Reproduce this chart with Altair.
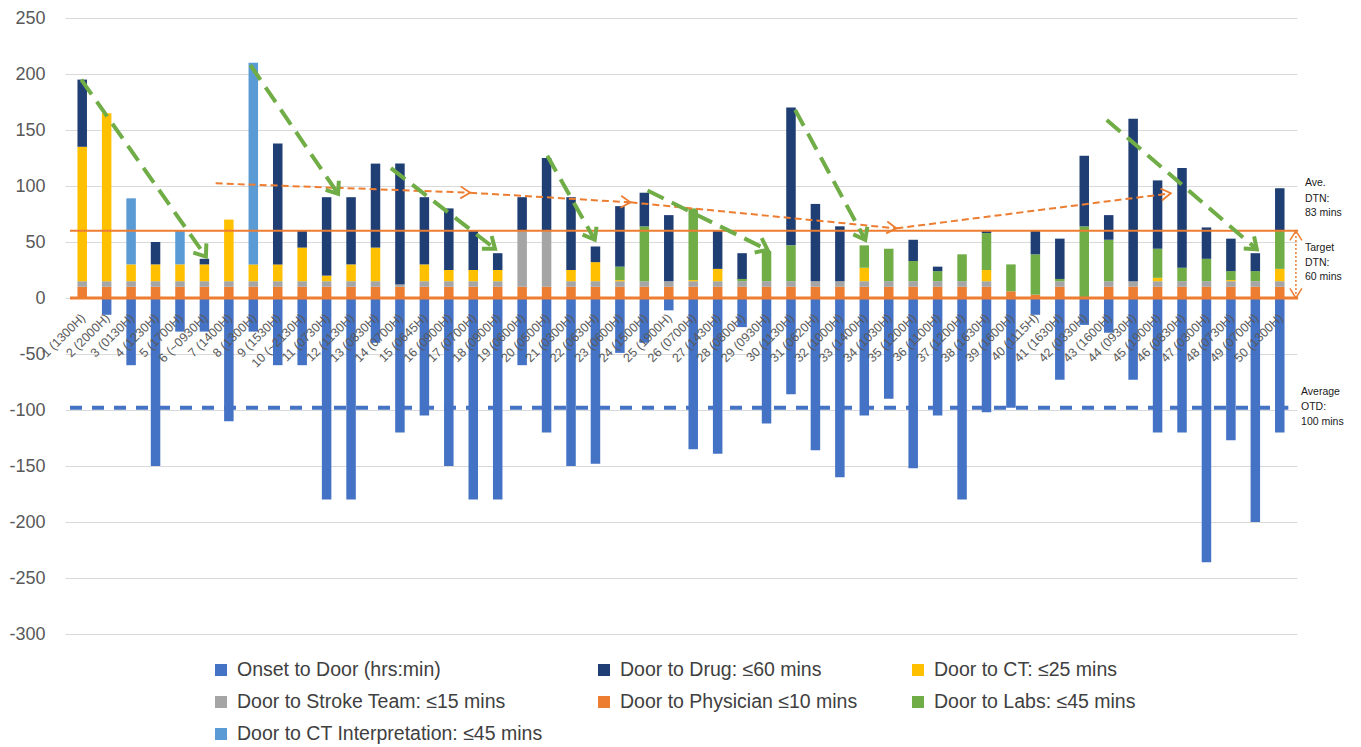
import math

import altair as alt
import pandas as pd

# ---------------------------------------------------------------- data
patients = [
    "1 (1300H)", "2 (2000H)", "3 (0130H)", "4 (1230H)", "5 (1700H)",
    "6 (~0930H)", "7 (1400H)", "8 (1300H)", "9 (1530H)", "10 (~2130H)",
    "11 (0730H)", "12 (1130H)", "13 (0830H)", "14 (0700H)", "15 (0645H)",
    "16 (0900H)", "17 (0700H)", "18 (0900H)", "19 (0600H)", "20 (0500H)",
    "21 (0300H)", "22 (0630H)", "23 (0600H)", "24 (1500H)", "25 (1900H)",
    "26 (0700H)", "27 (1430H)", "28 (0800H)", "29 (0930H)", "30 (1130H)",
    "31 (0620H)", "32 (1000H)", "33 (1400H)", "34 (1030H)", "35 (1200H)",
    "36 (1100H)", "37 (1200H)", "38 (1630H)", "39 (1600H)", "40 (1115H)",
    "41 (1630H)", "42 (0330H)", "43 (1600H)", "44 (0930H)", "45 (1900H)",
    "46 (0830H)", "47 (0300H)", "48 (0730H)", "49 (0700H)", "50 (1300H)",
]

# minutes from onset to arrival (drawn below the zero line)
onset_to_door = [
    0, 15, 60, 150, 30, 30, 110, 30, 60, 60,
    180, 180, 40, 120, 105, 150, 180, 180, 60, 120,
    150, 148, 49, 40, 11, 135, 139, 26, 112, 86,
    136, 160, 105, 90, 152, 105, 180, 102, 98, 15,
    73, 24, 31, 73, 120, 120, 236, 127, 200, 120,
]

# minutes after arrival at which each step was completed (None = not recorded)
door_to_drug = [
    195, None, None, 50, None, 35, None, None, 138, 60,
    90, 90, 120, 120, 90, 80, 60, 40, 90, 125,
    90, 46, 82, 94, 74, None, 60, 40, None, 170,
    84, 64, None, None, 52, 28, None, 60, None, 60,
    53, 127, 74, 160, 105, 116, 63, 53, 40, 98,
]
door_to_ct = [
    135, 165, 30, 30, 30, 30, 70, 30, 30, 45,
    20, 30, 45, None, 30, 25, 25, 25, None, None,
    25, 32, 16, None, None, 16, 26, None, None, None,
    None, None, 27, None, None, None, None, 25, None, None,
    None, None, None, None, 18, None, None, 16, None, 26,
]
door_to_stroke_team = [
    15, 15, 15, 15, 15, 15, 15, 15, 15, 15,
    15, 15, 15, 12, 15, 15, 15, 15, 60, 60,
    15, 15, 15, 15, 15, 15, 15, 15, 15, 15,
    15, 15, 15, 15, 15, 15, 15, 15, None, None,
    15, None, 15, 15, 15, 15, 15, 15, 15, 15,
]
door_to_physician = [
    10, 10, 10, 10, 10, 10, 10, 10, 10, 10,
    10, 10, 10, 10, 10, 10, 10, 10, 10, 10,
    10, 10, 10, 10, 10, 10, 10, 10, 10, 10,
    10, 10, 10, 10, 10, 10, 10, 10, 6, 3,
    10, None, 10, 10, 10, 10, 10, 10, 10, 10,
]
door_to_labs = [
    None, None, None, None, None, None, None, None, None, None,
    None, None, None, None, None, None, None, None, None, None,
    None, None, 28, 64, None, 80, None, 17, 42, 47,
    None, None, 47, 44, 33, 24, 39, 58, 30, 39,
    17, 64, 52, None, 44, 27, 35, 24, 24, 60,
]
door_to_ct_interpretation = [
    None, None, 89, None, 60, None, None, 210, None, None,
    None, None, None, None, None, None, None, None, None, None,
    None, None, None, None, None, None, None, None, None, None,
    None, None, None, None, None, None, None, None, None, None,
    None, None, None, None, None, None, None, None, None, None,
]

series_names = [
    "Onset to Door (hrs:min)",
    "Door to Drug: ≤60 mins",
    "Door to CT: ≤25 mins",
    "Door to Stroke Team: ≤15 mins",
    "Door to Physician ≤10 mins",
    "Door to Labs: ≤45 mins",
    "Door to CT Interpretation: ≤45 mins",
]
series_colors = ["#4472C4", "#1F3E73", "#FFC000", "#A5A5A5", "#ED7D31", "#70AD47", "#5B9BD5"]

target_dtn = 60
average_otd = -98

# trend arrows (patient position, minutes)
green_start_x = [0.96, 7.88, 13.63, 20.03, 24.13, 30.17, 42.92]
green_start_v = [195, 208, 116, 127, 96, 168, 159]
green_end_x = [6.06, 11.47, 17.89, 21.97, 29.04, 33.04, 49.06]
green_end_v = [37, 93, 44, 52, 43, 52, 43.5]

dtn_trend_x = [6.46, 16.87, 23.43, 34.31, 45.54]
dtn_trend_v = [102.4, 94.0, 85.4, 62.2, 93.5]

note_x = [51.03, 51.03, 51.03, 51.03, 51.03, 51.03, 50.87, 50.87, 50.87]
note_v = [102.4, 88.1, 75.6, 44.4, 31.5, 18.5, -83.7, -97.1, -110.4]
note_text = ["Ave.", "DTN:", "83 mins", "Target", "DTN:", "60 mins", "Average", "OTD:", "100 mins"]

# ---------------------------------------------------------------- layout
WIDTH, HEIGHT = 1232, 616
X_DOMAIN = [0.5, 50.5]
Y_DOMAIN = [-300, 250]
PX_X = WIDTH / (X_DOMAIN[1] - X_DOMAIN[0])
PX_Y = HEIGHT / (Y_DOMAIN[1] - Y_DOMAIN[0])
FONT = "Liberation Sans"

# category labels hang just under the zero line
CATEGORY_LABEL_Y = -16
CATEGORY_LABEL_DX = 0.04

# legend grid (pixels relative to the plot origin): 3 columns, filled row by row
LEGEND_COL_X = [156, 539, 853]
LEGEND_ROW_Y = [652, 684, 716]


def heading(x0, v0, x1, v1):
    """Screen angle (degrees, clockwise) of the direction from point 0 to point 1."""
    a = math.degrees(math.atan2(-(v1 - v0) * PX_Y, (x1 - x0) * PX_X))
    return a % 360


# ---------------------------------------------------------------- tables
steps = {
    series_names[1]: door_to_drug,
    series_names[2]: door_to_ct,
    series_names[3]: door_to_stroke_team,
    series_names[4]: door_to_physician,
    series_names[5]: door_to_labs,
    series_names[6]: door_to_ct_interpretation,
}

rows = []
for i in range(len(patients)):
    vals = sorted(
        (arr[i], name) for name, arr in steps.items() if arr[i] is not None and arr[i] > 0
    )
    prev = 0
    for v, name in vals:
        rows.append({"idx": i + 1, "series": name, "y0": prev, "y1": v})
        prev = v
    if onset_to_door[i] > 0:
        rows.append({"idx": i + 1, "series": series_names[0], "y0": 0, "y1": -onset_to_door[i]})
bars_df = pd.DataFrame(rows)

category_df = pd.DataFrame({
    "idx": [i + 1 + CATEGORY_LABEL_DX for i in range(len(patients))],
    "v": [CATEGORY_LABEL_Y] * len(patients),
    "label": patients,
})

green_df = pd.DataFrame({
    "x0": green_start_x, "v0": green_start_v, "x1": green_end_x, "v1": green_end_v,
})
green_df["angle"] = [heading(a, b, c, d) for a, b, c, d in
                     zip(green_start_x, green_start_v, green_end_x, green_end_v)]

trend_df = pd.DataFrame({
    "x0": dtn_trend_x[:-1], "v0": dtn_trend_v[:-1],
    "x1": dtn_trend_x[1:], "v1": dtn_trend_v[1:],
})
trend_df["angle"] = [heading(a, b, c, d) for a, b, c, d in
                     zip(trend_df.x0, trend_df.v0, trend_df.x1, trend_df.v1)]

hlines_df = pd.DataFrame({"xs": [0.5], "xe": [50.75]})
target_arrow_x = 50.66
target_df = pd.DataFrame({"x": [target_arrow_x], "v0": [0], "v1": [target_dtn]})
target_heads_df = pd.DataFrame({
    "x": [target_arrow_x, target_arrow_x], "v": [target_dtn, 0], "angle": [270, 90],
})
notes_df = pd.DataFrame({"x": note_x, "v": note_v, "text": note_text})

legend_df = pd.DataFrame({
    "series": series_names,
    "lx": [LEGEND_COL_X[k % 3] for k in range(len(series_names))],
    "ly": [LEGEND_ROW_Y[k // 3] for k in range(len(series_names))],
})

# ---------------------------------------------------------------- chart
x_scale = alt.Scale(domain=X_DOMAIN, nice=False, zero=False)
y_scale = alt.Scale(domain=Y_DOMAIN, nice=False, zero=False)
color_scale = alt.Scale(domain=series_names, range=series_colors)

bars = alt.Chart(bars_df).mark_bar(size=9.5).encode(
    x=alt.X(
        "idx:Q", scale=x_scale, title="",
        axis=alt.Axis(labels=False, ticks=False, domain=False, grid=False),
    ),
    y=alt.Y(
        "y0:Q", scale=y_scale, title="",
        axis=alt.Axis(
            values=list(range(-300, 251, 50)), grid=True, gridColor="#D9D9D9",
            gridWidth=1, domain=False, ticks=False, labelPadding=20,
            labelFontSize=18, labelFont=FONT, labelColor="#595959",
            labelExpr="toString(datum.value)",
        ),
    ),
    y2="y1:Q",
    color=alt.Color("series:N", scale=color_scale, legend=None),
)

zero_line = alt.Chart(hlines_df).mark_rule(color="#ED7D31", strokeWidth=3).encode(
    x=alt.X("xs:Q", scale=x_scale, title=""), x2="xe:Q",
    y=alt.datum(0, scale=y_scale, title=""),
)
target_line = alt.Chart(hlines_df).mark_rule(color="#ED7D31", strokeWidth=2).encode(
    x=alt.X("xs:Q", scale=x_scale, title=""), x2="xe:Q",
    y=alt.datum(target_dtn, scale=y_scale, title=""),
)
otd_line = alt.Chart(pd.DataFrame({"xs": [0.5], "xe": [50.35]})).mark_rule(
    color="#4472C4", strokeWidth=4, strokeDash=[12, 10]
).encode(
    x=alt.X("xs:Q", scale=x_scale, title=""), x2="xe:Q",
    y=alt.datum(average_otd, scale=y_scale, title=""),
)

green_lines = alt.Chart(green_df).mark_rule(
    color="#70AD47", strokeWidth=4, strokeDash=[18, 9]
).encode(
    x=alt.X("x0:Q", scale=x_scale, title=""), x2="x1:Q",
    y=alt.Y("v0:Q", scale=y_scale, title=""), y2="v1:Q",
)
green_heads = alt.Chart(green_df).mark_point(
    shape="M-1.3,-1L0,0L-1.3,1", filled=False, color="#70AD47",
    strokeWidth=4, size=256, opacity=1,
).encode(
    x=alt.X("x1:Q", scale=x_scale, title=""),
    y=alt.Y("v1:Q", scale=y_scale, title=""),
    angle=alt.Angle("angle:Q", scale=None),
)

trend_lines = alt.Chart(trend_df).mark_rule(
    color="#ED7D31", strokeWidth=2, strokeDash=[7, 4]
).encode(
    x=alt.X("x0:Q", scale=x_scale, title=""), x2="x1:Q",
    y=alt.Y("v0:Q", scale=y_scale, title=""), y2="v1:Q",
)
trend_heads = alt.Chart(trend_df).mark_point(
    shape="M-1.6,-1L0,0L-1.6,1", filled=False, color="#ED7D31",
    strokeWidth=1.8, size=144, opacity=1,
).encode(
    x=alt.X("x1:Q", scale=x_scale, title=""),
    y=alt.Y("v1:Q", scale=y_scale, title=""),
    angle=alt.Angle("angle:Q", scale=None),
)

target_span = alt.Chart(target_df).mark_rule(
    color="#ED7D31", strokeWidth=1.5, strokeDash=[2, 2]
).encode(
    x=alt.X("x:Q", scale=x_scale, title=""),
    y=alt.Y("v0:Q", scale=y_scale, title=""), y2="v1:Q",
)
target_heads = alt.Chart(target_heads_df).mark_point(
    shape="M-1.6,-1L0,0L-1.6,1", filled=False, color="#ED7D31",
    strokeWidth=1.5, size=144, opacity=1,
).encode(
    x=alt.X("x:Q", scale=x_scale, title=""),
    y=alt.Y("v:Q", scale=y_scale, title=""),
    angle=alt.Angle("angle:Q", scale=None),
)

notes = alt.Chart(notes_df).mark_text(
    align="left", baseline="middle", fontSize=10.5, font=FONT, color="#1A1A1A"
).encode(
    x=alt.X("x:Q", scale=x_scale, title=""),
    y=alt.Y("v:Q", scale=y_scale, title=""),
    text="text:N",
)

# patient labels, slanted up to the right and ending under each bar
category_labels = alt.Chart(category_df).mark_text(
    align="right", baseline="middle", angle=315, fontSize=12.5, font=FONT,
    color="#595959",
).encode(
    x=alt.X("idx:Q", scale=x_scale, title=""),
    y=alt.Y("v:Q", scale=y_scale, title=""),
    text="label:N",
)

# legend: colour swatch + label, three per row
legend_marks = alt.Chart(legend_df).mark_square(size=144, opacity=1).encode(
    x=alt.X("lx:Q", scale=None),
    y=alt.Y("ly:Q", scale=None),
    color=alt.Color("series:N", scale=color_scale, legend=None),
)
legend_labels = alt.Chart(legend_df).mark_text(
    align="left", baseline="middle", dx=16, fontSize=19.5, font=FONT, color="#404040"
).encode(
    x=alt.X("lx:Q", scale=None),
    y=alt.Y("ly:Q", scale=None),
    text="series:N",
)

chart = alt.layer(
    bars, zero_line, target_line, otd_line,
    trend_lines, trend_heads, green_lines, green_heads,
    target_span, target_heads, notes, category_labels,
    legend_marks, legend_labels,
).properties(
    width=WIDTH, height=HEIGHT,
    autosize=alt.AutoSizeParams(type="none"),
    padding={"left": 65, "top": 18, "right": 64, "bottom": 113},
    background="white",
).configure_view(strokeWidth=0)

chart.save("out.html", embed_options={"renderer": "svg", "actions": False})
